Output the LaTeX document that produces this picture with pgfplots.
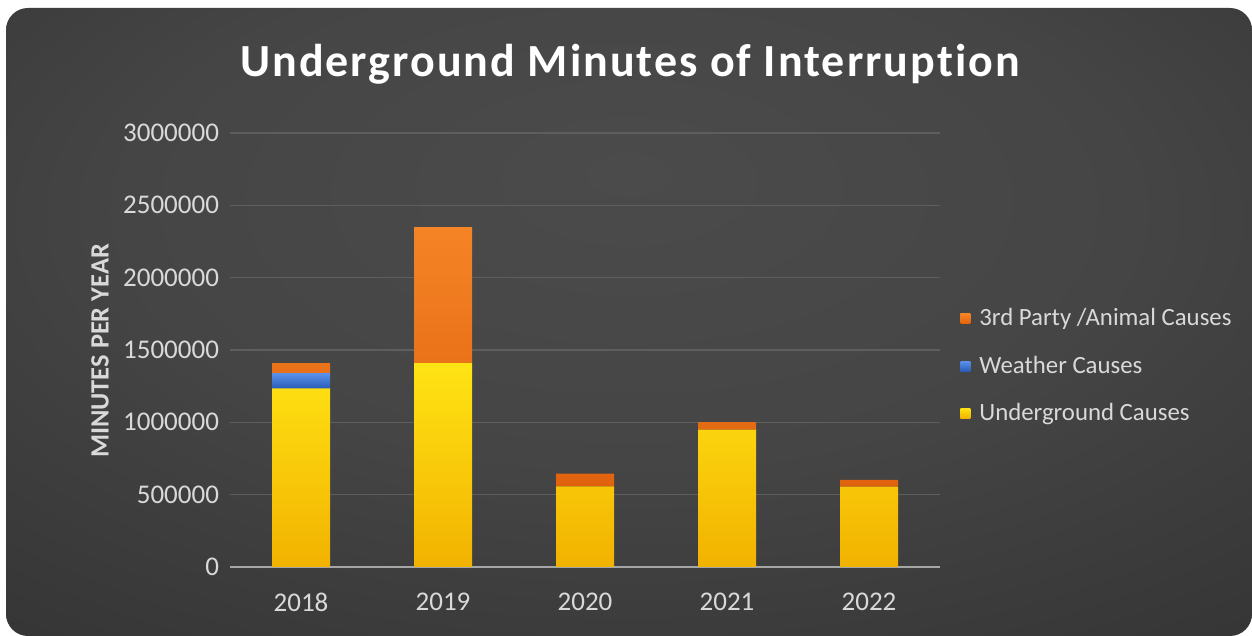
\documentclass[border=0pt]{standalone}
\usepackage{pgfplots}
\pgfplotsset{compat=1.18}
\usepackage{fontspec}
\setmainfont{Carlito}

\definecolor{bgmid}{HTML}{4B4B4B}
\definecolor{bgdark}{HTML}{242424}
\definecolor{tickgray}{HTML}{D9D9D9}
\definecolor{gridgray}{HTML}{5E5E5E}
\definecolor{axisgray}{HTML}{A6A6A6}
\definecolor{ylwtop}{HTML}{FFE414}
\definecolor{ylwbot}{HTML}{F2B200}
\definecolor{blutop}{HTML}{5A92EC}
\definecolor{blubot}{HTML}{2A5CB8}
\definecolor{orgtop}{HTML}{F58426}
\definecolor{orgbot}{HTML}{E0620E}

\pgfdeclareradialshading{panel}{\pgfpoint{0bp}{12bp}}{%
  color(0bp)=(bgmid); color(20bp)=(bgmid!85!bgdark); color(62bp)=(bgdark); color(80bp)=(bgdark)}

\newfontfamily\titlefont[LetterSpace=4.4, Ligatures=NoCommon]{Carlito}

\begin{document}
\begin{tikzpicture}
\useasboundingbox (0,0) rectangle (626pt,318pt);
\fill[white] (0,0) rectangle (626pt,318pt);
\shade[shading=panel, rounded corners=11pt] (3pt,0pt) rectangle (626pt,314pt);

\node[text=white, font=\titlefont\fontsize{23}{28}\selectfont\bfseries] at (315pt,286pt)
  {Underground Minutes of Interruption};
\node[rotate=90, text=tickgray, font=\fontsize{13.2}{16}\selectfont\bfseries] at (50pt,142.5pt)
  {MINUTES PER YEAR};

\begin{axis}[
  at={(115pt,34.5pt)}, anchor=south west,
  scale only axis, width=355pt, height=217pt,
  ybar stacked, bar width=29pt,
  xmin=-0.5, xmax=4.5, ymin=0, ymax=3000000,
  xtick={0,1,2,3,4}, xticklabels={2018,2019,2020,2021,2022},
  ytick={0,500000,1000000,1500000,2000000,2500000,3000000},
  scaled y ticks=false,
  /pgf/number format/fixed,
  /pgf/number format/1000 sep={},
  /pgf/number format/assume math mode=true,
  axis x line*=bottom, axis y line*=left,
  y axis line style={draw=none},
  x axis line style={draw=axisgray, line width=0.8pt},
  major tick length=0pt,
  ymajorgrids, grid style={gridgray, line width=0.6pt},
  tick label style={text=tickgray, font=\fontsize{13.5}{16}\selectfont},
  yticklabel style={xshift=-2pt},
  xticklabel style={yshift=-9.5pt},
  reverse legend,
  legend image code/.code={\fill[#1] (0pt,-2.5pt) rectangle (5pt,2.5pt);},
  legend style={at={(1,0.463)}, anchor=west, xshift=7pt, draw=none, fill=none,
    text=tickgray, font=\fontsize{12.4}{15}\selectfont, row sep=10.5pt,
    legend cell align=left,
    nodes={inner sep=1.5pt},
    /tikz/every odd column/.append style={column sep=3pt}},
]
\addplot[draw=none, top color=ylwtop, bottom color=ylwbot] coordinates
  {(0,1235000) (1,1410000) (2,557000) (3,950000) (4,555000)};
\addplot[draw=none, top color=blutop, bottom color=blubot] coordinates
  {(0,105000) (1,0) (2,0) (3,0) (4,0)};
\addplot[draw=none, top color=orgtop, bottom color=orgbot] coordinates
  {(0,70000) (1,940000) (2,88000) (3,52000) (4,48000)};
\legend{Underground Causes, Weather Causes, 3rd Party /Animal Causes}
\end{axis}
\end{tikzpicture}
\end{document}
